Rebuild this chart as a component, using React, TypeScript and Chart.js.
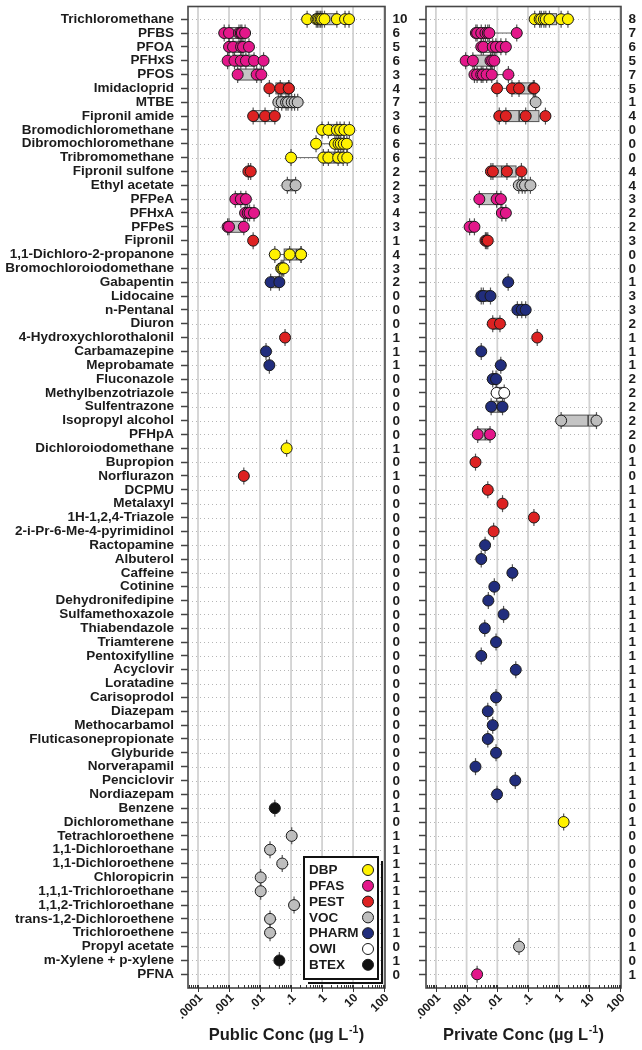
import React, { useEffect, useRef } from 'react';
import { Chart, registerables } from 'chart.js';

Chart.register(...registerables);

const compounds = [
  'Trichloromethane', 'PFBS', 'PFOA', 'PFHxS', 'PFOS', 'Imidacloprid', 'MTBE', 'Fipronil amide',
  'Bromodichloromethane', 'Dibromochloromethane', 'Tribromomethane', 'Fipronil sulfone', 'Ethyl acetate',
  'PFPeA', 'PFHxA', 'PFPeS', 'Fipronil', '1,1-Dichloro-2-propanone', 'Bromochloroiodomethane', 'Gabapentin',
  'Lidocaine', 'n-Pentanal', 'Diuron', '4-Hydroxychlorothalonil', 'Carbamazepine', 'Meprobamate', 'Fluconazole',
  'Methylbenzotriazole', 'Sulfentrazone', 'Isopropyl alcohol', 'PFHpA', 'Dichloroiodomethane', 'Bupropion',
  'Norflurazon', 'DCPMU', 'Metalaxyl', '1H-1,2,4-Triazole', '2-i-Pr-6-Me-4-pyrimidinol', 'Ractopamine',
  'Albuterol', 'Caffeine', 'Cotinine', 'Dehydronifedipine', 'Sulfamethoxazole', 'Thiabendazole', 'Triamterene',
  'Pentoxifylline', 'Acyclovir', 'Loratadine', 'Carisoprodol', 'Diazepam', 'Methocarbamol',
  'Fluticasonepropionate', 'Glyburide', 'Norverapamil', 'Penciclovir', 'Nordiazepam', 'Benzene',
  'Dichloromethane', 'Tetrachloroethene', '1,1-Dichloroethane', '1,1-Dichloroethene', 'Chloropicrin',
  '1,1,1-Trichloroethane', '1,1,2-Trichloroethane', 'trans-1,2-Dichloroethene', 'Trichloroethene',
  'Propyl acetate', 'm-Xylene + p-xylene', 'PFNA',
];

const groups = [
  'DBP', 'PFAS', 'PFAS', 'PFAS', 'PFAS', 'PEST', 'VOC', 'PEST', 'DBP', 'DBP',
  'DBP', 'PEST', 'VOC', 'PFAS', 'PFAS', 'PFAS', 'PEST', 'DBP', 'DBP', 'PHARM',
  'PHARM', 'PHARM', 'PEST', 'PEST', 'PHARM', 'PHARM', 'PHARM', 'OWI', 'PHARM', 'VOC',
  'PFAS', 'DBP', 'PEST', 'PEST', 'PEST', 'PEST', 'PEST', 'PEST', 'PHARM', 'PHARM',
  'PHARM', 'PHARM', 'PHARM', 'PHARM', 'PHARM', 'PHARM', 'PHARM', 'PHARM', 'PHARM', 'PHARM',
  'PHARM', 'PHARM', 'PHARM', 'PHARM', 'PHARM', 'PHARM', 'PHARM', 'BTEX', 'DBP', 'VOC',
  'VOC', 'VOC', 'VOC', 'VOC', 'VOC', 'VOC', 'VOC', 'VOC', 'BTEX', 'PFAS',
];

const publicCounts = [
  10, 6, 5, 6, 3, 4, 7, 3, 6, 6, 6, 2, 2, 3, 4, 3, 1, 4, 3, 2,
  0, 0, 0, 1, 1, 1, 0, 0, 0, 0, 0, 1, 0, 1, 0, 0, 0, 0, 0, 0,
  0, 0, 0, 0, 0, 0, 0, 0, 0, 0, 0, 0, 0, 0, 0, 0, 0, 1, 0, 1,
  1, 1, 1, 1, 1, 1, 1, 0, 1, 0,
];

const privateCounts = [
  8, 7, 6, 5, 7, 5, 1, 4, 0, 0, 0, 4, 4, 3, 2, 2, 3, 0, 0, 1,
  3, 3, 2, 1, 1, 1, 2, 2, 2, 2, 2, 0, 1, 0, 1, 1, 1, 1, 1, 1,
  1, 1, 1, 1, 1, 1, 1, 1, 1, 1, 1, 1, 1, 1, 1, 1, 1, 0, 1, 0,
  0, 0, 0, 0, 0, 0, 0, 1, 0, 1,
];

const publicConc: number[][] = [
  [0.33, 0.65, 0.72, 0.8, 0.9, 1.0, 1.2, 3.0, 5.5, 7.4],
  [0.0007, 0.001, 0.0021, 0.0024, 0.0026, 0.0033],
  [0.001, 0.00135, 0.00244, 0.00283, 0.0044],
  [0.0009, 0.0015, 0.0024, 0.0035, 0.0064, 0.013],
  [0.0019, 0.0078, 0.011],
  [0.02, 0.045, 0.084, 0.085],
  [0.039, 0.05, 0.069, 0.08, 0.105, 0.13, 0.164],
  [0.006, 0.0145, 0.03],
  [1.0, 1.6, 3.0, 3.8, 5.2, 7.6],
  [0.64, 2.6, 3.4, 4.0, 5.0, 6.3],
  [0.1, 1.1, 1.6, 3.3, 4.8, 6.5],
  [0.0042, 0.005],
  [0.076, 0.14],
  [0.0016, 0.0024, 0.0035],
  [0.0033, 0.004, 0.0046, 0.0064],
  [0.0009, 0.001, 0.003],
  [0.006],
  [0.03, 0.09, 0.21, 0.21],
  [0.048, 0.052, 0.058],
  [0.022, 0.042],
  [], [], [],
  [0.064],
  [0.0156],
  [0.02],
  [], [], [], [], [],
  [0.072],
  [],
  [0.003],
  [], [], [], [], [], [], [], [], [], [], [], [], [], [], [], [], [], [], [], [], [], [], [],
  [0.03],
  [],
  [0.105],
  [0.021],
  [0.052],
  [0.0105],
  [0.0105],
  [0.125],
  [0.021],
  [0.021],
  [],
  [0.042],
  [],
];

const privateConc: number[][] = [
  [0.165, 0.24, 0.27, 0.33, 0.38, 0.5, 1.2, 2.0],
  [0.002, 0.0022, 0.003, 0.0041, 0.0049, 0.0055, 0.043],
  [0.003, 0.0035, 0.0071, 0.009, 0.0131, 0.019],
  [0.00093, 0.0016, 0.006, 0.0068, 0.008],
  [0.0018, 0.0022, 0.003, 0.0034, 0.0045, 0.0066, 0.023],
  [0.0098, 0.03, 0.051, 0.149, 0.16],
  [0.177],
  [0.0116, 0.019, 0.084, 0.37],
  [], [], [],
  [0.0062, 0.0072, 0.0206, 0.061],
  [0.05, 0.065, 0.08, 0.12],
  [0.0026, 0.0095, 0.0131],
  [0.0141, 0.019],
  [0.00125, 0.0018],
  [0.0041, 0.0045, 0.0049],
  [], [],
  [0.0226],
  [0.003, 0.0035, 0.006],
  [0.045, 0.0626, 0.084],
  [0.0071, 0.0122],
  [0.2],
  [0.003],
  [0.013],
  [0.0071, 0.0091],
  [0.0095, 0.0168],
  [0.0063, 0.0148],
  [1.2, 17],
  [0.0023, 0.0058],
  [],
  [0.00195],
  [],
  [0.0049],
  [0.0148],
  [0.156],
  [0.0076],
  [0.004],
  [0.003],
  [0.031],
  [0.008],
  [0.0051],
  [0.016],
  [0.0039],
  [0.0091],
  [0.003],
  [0.04],
  [],
  [0.0091],
  [0.0049],
  [0.0071],
  [0.0049],
  [0.0091],
  [0.00195],
  [0.0385],
  [0.0098],
  [],
  [1.45],
  [], [], [], [], [], [], [], [],
  [0.051],
  [],
  [0.0022],
];

const groupNames = ['DBP', 'PFAS', 'PEST', 'VOC', 'PHARM', 'OWI', 'BTEX'];
const groupColors = ['#FFF200', '#E3178A', '#DD2222', '#BEBEBE', '#212D7D', '#FFFFFF', '#111111'];

const tickValues = [0.0001, 0.001, 0.01, 0.1, 1, 10, 100];
const tickLabels = ['.0001', '.001', '.01', '.1', '1', '10', '100'];

const X_MIN = 4.76e-5;
const X_MAX = 107;
const Y_MIN = 0.084;
const Y_MAX = 70.99;
const FONT = '"Liberation Sans", Arial, Helvetica, sans-serif';
const TEXT = '#1c1c1c';

function quant(sorted: number[], p: number): number {
  const n = sorted.length;
  const np = n * p;
  const j = Math.floor(np + 1e-9);
  const g = np - j;
  if (g > 1e-9) return sorted[Math.min(j, n - 1)];
  return 0.5 * (sorted[Math.max(j - 1, 0)] + sorted[Math.min(j, n - 1)]);
}

function makePlugin(side: 'left' | 'right') {
  const values = side === 'left' ? publicConc : privateConc;
  const counts = side === 'left' ? publicCounts : privateCounts;
  const titleMain = side === 'left' ? 'Public Conc (\u00B5g L' : 'Private Conc (\u00B5g L';
  return {
    id: 'panel-' + side,
    beforeDatasetsDraw(chart: any) {
      const { ctx, chartArea: a, scales } = chart;
      const x = scales.x;
      const y = scales.y;
      ctx.save();
      // dotted row lines
      ctx.strokeStyle = '#b5b5b5';
      ctx.lineWidth = 1;
      ctx.setLineDash([1, 3]);
      for (let i = 1; i <= compounds.length; i++) {
        const py = Math.round(y.getPixelForValue(i)) + 0.5;
        ctx.beginPath();
        ctx.moveTo(a.left, py);
        ctx.lineTo(a.right, py);
        ctx.stroke();
      }
      ctx.setLineDash([]);
      // decade grid lines
      ctx.strokeStyle = '#d2d2d2';
      ctx.lineWidth = 1.8;
      tickValues.forEach((v) => {
        const px = x.getPixelForValue(v);
        ctx.beginPath();
        ctx.moveTo(px, a.top);
        ctx.lineTo(px, a.bottom);
        ctx.stroke();
      });
      // whiskers and boxes
      values.forEach((vals, i) => {
        if (vals.length < 2) return;
        const s = [...vals].sort((p, q) => p - q);
        const py = y.getPixelForValue(i + 1);
        const xmin = x.getPixelForValue(s[0]);
        const xmax = x.getPixelForValue(s[s.length - 1]);
        const lo = x.getPixelForValue(quant(s, 0.25));
        const med = x.getPixelForValue(quant(s, 0.5));
        const hi = x.getPixelForValue(quant(s, 0.75));
        ctx.strokeStyle = '#666';
        ctx.lineWidth = 1;
        ctx.beginPath();
        ctx.moveTo(xmin, py);
        ctx.lineTo(xmax, py);
        ctx.stroke();
        ctx.fillStyle = '#c4c4c4';
        ctx.strokeStyle = '#555';
        ctx.lineWidth = 1;
        ctx.fillRect(lo, py - 5.5, hi - lo, 11);
        ctx.strokeRect(lo, py - 5.5, hi - lo, 11);
        ctx.strokeStyle = '#444';
        ctx.lineWidth = 1.5;
        ctx.beginPath();
        ctx.moveTo(med, py - 5.5);
        ctx.lineTo(med, py + 5.5);
        ctx.stroke();
      });
      // vertical ticks through each point
      ctx.strokeStyle = '#555';
      ctx.lineWidth = 1.2;
      values.forEach((vals, i) => {
        const py = y.getPixelForValue(i + 1);
        vals.forEach((v) => {
          const px = x.getPixelForValue(v);
          ctx.beginPath();
          ctx.moveTo(px, py - 8.5);
          ctx.lineTo(px, py + 8.5);
          ctx.stroke();
        });
      });
      ctx.restore();
    },
    afterDatasetsDraw(chart: any) {
      const { ctx, chartArea: a, scales } = chart;
      const x = scales.x;
      const y = scales.y;
      ctx.save();
      // frame
      ctx.strokeStyle = '#474747';
      ctx.lineWidth = 1.6;
      ctx.strokeRect(a.left, a.top, a.right - a.left, a.bottom - a.top);
      // x ticks
      ctx.strokeStyle = '#333';
      ctx.lineWidth = 1;
      for (let k = -5; k <= 2; k++) {
        for (let m = 1; m <= 9; m++) {
          const v = m * Math.pow(10, k);
          if (v < X_MIN || v > X_MAX) continue;
          const px = Math.round(x.getPixelForValue(v)) + 0.5;
          ctx.beginPath();
          if (m === 1) {
            ctx.moveTo(px, a.bottom - 3);
            ctx.lineTo(px, a.bottom + 4);
          } else {
            ctx.moveTo(px, a.bottom - 3);
            ctx.lineTo(px, a.bottom);
          }
          ctx.stroke();
        }
      }
      // x tick labels
      ctx.fillStyle = TEXT;
      ctx.font = `bold 12px ${FONT}`;
      ctx.textAlign = 'right';
      ctx.textBaseline = 'middle';
      tickValues.forEach((v, i) => {
        const px = x.getPixelForValue(v);
        ctx.save();
        ctx.translate(px + 3, a.bottom + 8);
        ctx.rotate(-Math.PI / 4);
        ctx.fillText(tickLabels[i], 0, 0);
        ctx.restore();
      });
      // axis title with superscript
      const cx = (a.left + a.right) / 2;
      const by = 1040;
      ctx.textAlign = 'left';
      ctx.textBaseline = 'alphabetic';
      const mainFont = `bold 16.5px ${FONT}`;
      const supFont = `bold 10.5px ${FONT}`;
      ctx.font = mainFont;
      const w1 = ctx.measureText(titleMain).width;
      const w3 = ctx.measureText(')').width;
      ctx.font = supFont;
      const w2 = ctx.measureText('-1').width;
      const x0 = cx - (w1 + w2 + w3 + 1) / 2;
      ctx.font = mainFont;
      ctx.fillText(titleMain, x0, by);
      ctx.font = supFont;
      ctx.fillText('-1', x0 + w1 + 0.5, by - 7);
      ctx.font = mainFont;
      ctx.fillText(')', x0 + w1 + w2 + 1, by);
      // counts
      ctx.font = `bold 13.5px ${FONT}`;
      ctx.textBaseline = 'middle';
      ctx.textAlign = 'left';
      ctx.fillStyle = TEXT;
      counts.forEach((c, i) => {
        const py = y.getPixelForValue(i + 1);
        ctx.fillText(String(c), a.right + 7.5, py + 0.5);
      });
      // legend
      if (side === 'left') {
        const lx = 304;
        const ly = 857;
        const lw = 74;
        const lh = 122;
        ctx.fillStyle = '#fff';
        ctx.fillRect(lx, ly, lw, lh);
        ctx.strokeStyle = '#111';
        ctx.lineWidth = 2;
        ctx.strokeRect(lx, ly, lw, lh);
        ctx.beginPath();
        ctx.moveTo(lx + lw + 4, ly + 4);
        ctx.lineTo(lx + lw + 4, ly + lh + 4);
        ctx.lineTo(lx + 4, ly + lh + 4);
        ctx.stroke();
        ctx.font = `bold 13.5px ${FONT}`;
        ctx.textAlign = 'left';
        ctx.textBaseline = 'middle';
        groupNames.forEach((g, i) => {
          const py = 870 + i * 15.8;
          ctx.fillStyle = TEXT;
          ctx.fillText(g, lx + 5, py + 0.5);
          ctx.beginPath();
          ctx.arc(368, py, 5.5, 0, Math.PI * 2);
          ctx.fillStyle = groupColors[i];
          ctx.fill();
          ctx.strokeStyle = '#1a1a1a';
          ctx.lineWidth = 1;
          ctx.stroke();
        });
      }
      ctx.restore();
    },
  };
}

function makeConfig(side: 'left' | 'right'): any {
  const values = side === 'left' ? publicConc : privateConc;
  const datasets = groupNames.map((g, gi) => ({
    label: g,
    data: values.flatMap((vals, i) =>
      groups[i] === g ? [...vals].sort((p, q) => p - q).map((v) => ({ x: v, y: i + 1 })) : []
    ),
    backgroundColor: groupColors[gi],
    borderColor: '#1a1a1a',
    borderWidth: 1,
    pointRadius: 5.5,
    pointHoverRadius: 5.5,
    showLine: false,
    clip: false,
  }));
  return {
    type: 'scatter',
    data: { datasets },
    options: {
      animation: false,
      responsive: false,
      maintainAspectRatio: false,
      events: [],
      layout: {
        padding: side === 'left'
          ? { top: 5, bottom: 62, left: 0, right: 27 }
          : { top: 5, bottom: 62, left: 0, right: 21 },
      },
      plugins: { legend: { display: false }, tooltip: { enabled: false } },
      scales: {
        x: { type: 'logarithmic', display: false, min: X_MIN, max: X_MAX },
        y: {
          type: 'linear',
          reverse: true,
          min: Y_MIN,
          max: Y_MAX,
          afterBuildTicks: (s: any) => {
            s.ticks = compounds.map((_, i) => ({ value: i + 1 }));
          },
          afterFit: (s: any) => {
            s.width = side === 'left' ? 188 : 14;
            s.paddingTop = 0;
            s.paddingBottom = 0;
          },
          grid: {
            display: true,
            drawOnChartArea: false,
            drawTicks: true,
            tickLength: 7,
            tickColor: '#444',
            tickWidth: 1.5,
          },
          border: { display: false },
          ticks: {
            display: side === 'left',
            autoSkip: false,
            padding: 7,
            color: TEXT,
            font: { family: FONT, size: 13.5, weight: 'bold' },
            callback: (v: any) => compounds[Math.round(Number(v)) - 1] ?? '',
          },
        },
      },
    },
    plugins: [makePlugin(side)],
  };
}

export default function App() {
  const leftRef = useRef<HTMLCanvasElement>(null);
  const rightRef = useRef<HTMLCanvasElement>(null);
  useEffect(() => {
    const c1 = new Chart(leftRef.current as HTMLCanvasElement, makeConfig('left'));
    const c2 = new Chart(rightRef.current as HTMLCanvasElement, makeConfig('right'));
    return () => {
      c1.destroy();
      c2.destroy();
    };
  }, []);
  return (
    <div style={{ position: 'absolute', left: 0, top: 0, width: 642, height: 1050, background: '#fff' }}>
      <canvas ref={leftRef} width={412} height={1050} style={{ position: 'absolute', left: 0, top: 0 }} />
      <canvas ref={rightRef} width={230} height={1050} style={{ position: 'absolute', left: 412, top: 0 }} />
    </div>
  );
}
